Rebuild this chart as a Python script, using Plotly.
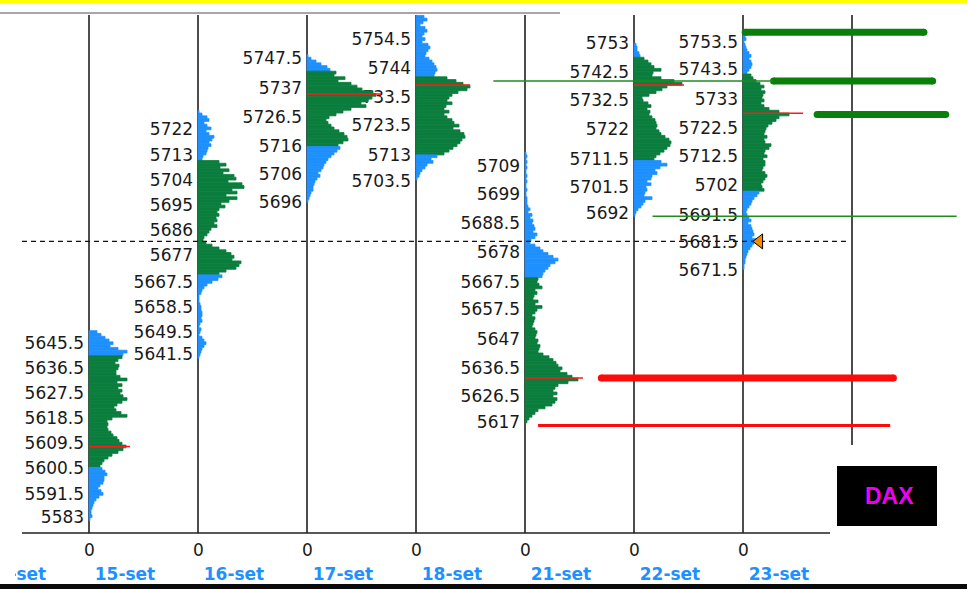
import plotly.graph_objects as go

# ---------------- canvas / scale helpers ----------------
W, H = 967, 589
PX_PER_PT = 2.79          # vertical pixels per index point
REF_PRICE, REF_PX = 5583.0, 519.0
DAY_PX = 109.0            # width of one session column
DAY0_PX = 89.0            # baseline of the first shown session (15-set)
LEFT_PX = 15.0            # left clip edge of the plot area
VOL_PER_DAY = 109.0       # volume units that fill one column


def price_at(py):
    return REF_PRICE + (REF_PX - py) / PX_PER_PT


def day_at(px):
    return (px - DAY0_PX) / DAY_PX


# ---------------- data ----------------
day_labels = ["14-set", "15-set", "16-set", "17-set", "18-set", "21-set", "22-set", "23-set"]
day_index = [-1, 0, 1, 2, 3, 4, 5, 6]

# volume profiles: highest price, then volumes per 1-point level going down
top_15 = 5650
vol_15 = [8, 12, 16, 20, 24, 21, 29, 38, 34,
          33, 29, 26, 30, 29, 27, 27, 31, 38, 28, 33, 29, 33, 31, 34, 38, 33, 28, 25, 27,
          32, 38, 23, 18, 19, 18, 19, 22, 24, 28, 30, 33, 37, 34, 29, 23, 19, 15, 13, 11,
          13, 16, 18, 15, 15, 14, 11, 9, 12, 14, 10, 7, 5, 4, 3, 2, 2, 3, 1]
va_15 = (5602, 5641)

top_16 = 5729
vol_16 = [1, 4, 9, 11, 6, 9, 13, 8, 11, 16, 14, 11, 13, 10, 9, 8, 5, 4,
          21, 28, 22, 31, 25, 36, 38, 30, 44, 46, 34, 39, 28, 39, 31, 23, 27, 21, 19, 21,
          18, 19, 16, 19, 13, 11, 9, 6, 5, 8, 14, 21, 28, 33, 36, 34, 43, 41, 38, 28, 21,
          24, 20, 14, 9, 6, 4, 3, 1, 1, 1, 2, 3, 3, 4, 4, 3, 4, 2, 1, 3, 2, 1, 4, 6, 8, 6,
          4, 3, 2, 1]
va_16 = (5671, 5711)

top_17 = 5749
vol_17 = [1, 4, 9, 14, 20, 23,
          29, 27, 38, 31, 44, 50, 55, 66, 69, 65, 61, 54, 59, 44, 36, 29, 22, 19, 21, 24,
          27, 32, 37, 40, 41, 36, 31,
          33, 30, 27, 24, 21, 19, 17, 16, 14, 11, 13, 10, 8, 7, 6, 6, 4, 3, 2, 1]
va_17 = (5717, 5743)

top_18 = 5763
vol_18 = [8, 11, 7, 4, 9, 11, 8, 6, 9, 6, 12, 14, 12, 10, 9, 13, 16, 18, 20, 21, 19, 18,
          31, 40, 47, 54, 51, 42, 36, 33, 31, 36, 30, 28, 33, 28, 31, 36, 38, 43, 37, 44,
          48, 49, 46, 44, 41, 37, 33, 28,
          21, 15, 17, 11, 9, 6, 4, 3, 1]
va_18 = (5714, 5741)

top_21 = 5714
vol_21 = [1, 2, 1, 2, 1, 2, 1, 1, 2, 1, 2, 1, 1, 2, 1, 1, 2,
          2, 2, 3, 5, 3, 7, 5, 8, 7, 9, 10, 8, 12, 10, 6, 5, 10, 15, 18, 23, 28, 33, 30,
          25, 23, 20, 18, 17,
          13, 12, 14, 17, 10, 12, 9, 8, 13, 10, 17, 12, 10, 7, 10, 9, 8, 7, 10, 12, 11,
          10, 13, 12, 15, 14, 13, 18, 24, 28, 31, 33, 37, 35, 42, 47, 53, 43, 33, 30, 28,
          32, 28, 32, 30, 27, 20, 13, 10, 7, 4, 2]
va_21 = (5618, 5669)

top_22 = 5753
vol_22 = [2, 3, 3, 5, 6,
          10, 14, 17, 20, 27, 19, 18, 27, 40, 48, 33, 28, 22, 15, 8, 9, 14, 17, 13, 16,
          15, 18, 21, 22, 23, 22, 25, 27, 31, 35, 37, 36, 33, 30, 26, 22, 20,
          27, 33, 26, 21, 23, 18, 17, 13, 17, 12, 13, 11, 10, 18, 11, 9, 7, 4, 2, 1]
va_22 = (5712, 5748)

top_23 = 5757
vol_23 = [1, 2, 3, 1, 2, 3, 4, 6, 8, 6, 8, 9, 8, 6, 4,
          8, 10, 13, 17, 21, 18, 22, 20, 19, 21, 18, 21, 26, 36, 46, 36, 33, 29, 25, 23,
          22, 21, 24, 21, 22, 28, 26, 22, 21, 24, 20, 22, 22, 20, 19, 22, 24, 22, 20, 18,
          19, 21,
          16, 14, 11, 9, 8, 6, 4, 3, 4, 6, 8, 5, 8, 9, 10, 11, 9, 13, 11, 9, 7, 5, 4, 3,
          2, 2, 1, 1]
va_23 = (5701, 5742)

# points of control: (day, price, length in volume units)
poc_days = [0, 2, 3, 4, 5, 6]
poc_prices = [5609, 5735.3, 5738.6, 5633.5, 5738.6, 5728.4]
poc_len = [41, 74, 54, 58, 50, 60]

# price labels for each column
lab_15 = [5645.5, 5636.5, 5627.5, 5618.5, 5609.5, 5600.5, 5591.5, 5583]
lab_16 = [5722, 5713, 5704, 5695, 5686, 5677, 5667.5, 5658.5, 5649.5, 5641.5]
lab_17 = [5747.5, 5737, 5726.5, 5716, 5706, 5696]
lab_18 = [5754.5, 5744, 5733.5, 5723.5, 5713, 5703.5]
lab_21 = [5709, 5699, 5688.5, 5678, 5667.5, 5657.5, 5647, 5636.5, 5626.5, 5617]
lab_22 = [5753, 5742.5, 5732.5, 5722, 5711.5, 5701.5, 5692]
lab_23 = [5753.5, 5743.5, 5733, 5722.5, 5712.5, 5702, 5691.5, 5681.5, 5671.5]

# horizontal reference levels (price, from-day, to-day)
lvl_price = [5633.5, 5616.5, 5757.5, 5740.0, 5728.0, 5740.0, 5691.5]
lvl_from = [4.70, 4.12, 6.02, 6.28, 6.68, 3.71, 5.17]
lvl_to = [7.38, 7.35, 7.66, 7.74, 7.86, 6.28, 7.96]
lvl_color = ["#FF0A0A", "#FF0A0A", "#0A7F0A", "#0A7F0A", "#0A7F0A", "#1E8C1E", "#1E8C1E"]
lvl_width = [7, 3, 7, 7, 7, 1.5, 1.5]
lvl_round = [True, False, True, True, True, False, False]

last_price = 5682.5
last_from, last_to = -0.615, 6.98
last_marker_day = 6.15

# ---------------- styles ----------------
BLUE = "#1E90FF"
GREEN = "#0B7D3D"
RED = "#FF1A1A"
TXT = "#1A1A1A"
FONT = "DejaVu Sans"

profiles = [
    (0, top_15, vol_15, va_15),
    (1, top_16, vol_16, va_16),
    (2, top_17, vol_17, va_17),
    (3, top_18, vol_18, va_18),
    (4, top_21, vol_21, va_21),
    (5, top_22, vol_22, va_22),
    (6, top_23, vol_23, va_23),
]
labels = [(0, lab_15), (1, lab_16), (2, lab_17), (3, lab_18),
          (4, lab_21), (5, lab_22), (6, lab_23)]

fig = go.Figure()

# price labels (drawn under the profiles)
lx, ly, lt = [], [], []
for d, labs in labels:
    for v in labs:
        lx.append(d - 0.045)
        ly.append(v)
        lt.append(f"{v:g}")
fig.add_trace(go.Scatter(x=lx, y=ly, text=lt, mode="text", textposition="middle left",
                         textfont=dict(family=FONT, size=17, color=TXT),
                         xaxis="x", yaxis="y", hoverinfo="skip", cliponaxis=False))

# session date labels (clipped at the plot edge)
fig.add_trace(go.Scatter(x=[d + 0.33 for d in day_index], y=[price_at(576)] * len(day_index),
                         text=day_labels, mode="text", textposition="middle center",
                         textfont=dict(family=FONT, size=17, color=BLUE, weight="bold"),
                         xaxis="x", yaxis="y", hoverinfo="skip", cliponaxis=True))

# profiles
for d, top, vols, (val, vah) in profiles:
    prices = [top - k for k in range(len(vols))]
    colors = [GREEN if val <= p <= vah else BLUE for p in prices]
    fig.add_trace(go.Bar(y=prices, x=[v / VOL_PER_DAY for v in vols], base=d,
                         orientation="h", width=1.0,
                         marker=dict(color=colors, line=dict(color=colors, width=0.8)),
                         xaxis="x2", yaxis="y2", hoverinfo="skip"))

# POC lines
for d, p, ln in zip(poc_days, poc_prices, poc_len):
    fig.add_trace(go.Scatter(x=[d, d + ln / VOL_PER_DAY], y=[p, p], mode="lines",
                             line=dict(color=RED, width=1.5), xaxis="x2", yaxis="y2",
                             hoverinfo="skip"))

# reference levels
for p, a, b, c, w, r in zip(lvl_price, lvl_from, lvl_to, lvl_color, lvl_width, lvl_round):
    fig.add_trace(go.Scatter(x=[a, b], y=[p, p], mode="lines+markers" if r else "lines",
                             line=dict(color=c, width=w),
                             marker=dict(size=w, color=c, line=dict(width=0)),
                             xaxis="x2", yaxis="y2", hoverinfo="skip", cliponaxis=False))

# last price dashed line and marker
fig.add_trace(go.Scatter(x=[last_from, last_to], y=[last_price, last_price], mode="lines",
                         line=dict(color="#111111", width=1.2, dash="5px,4px"),
                         xaxis="x2", yaxis="y2", hoverinfo="skip", cliponaxis=False))
fig.add_trace(go.Scatter(x=[last_marker_day], y=[last_price], mode="markers",
                         marker=dict(symbol="triangle-left", size=13, color="#F28C00",
                                     line=dict(color="#000000", width=1)),
                         xaxis="x2", yaxis="y2", hoverinfo="skip", cliponaxis=False))

# ---------------- frame shapes ----------------
shapes = []
ybot = 1 - 533 / H
ytop = 1 - 15 / H
for d in range(7):
    shapes.append(dict(type="line", xref="x", yref="paper", x0=d, x1=d, y0=ybot, y1=ytop,
                       line=dict(color="#202020", width=1.6), layer="below"))
shapes.append(dict(type="line", xref="x", yref="paper", x0=7, x1=7, y0=1 - 445 / H, y1=ytop,
                   line=dict(color="#202020", width=1.6), layer="below"))
shapes.append(dict(type="line", xref="paper", yref="paper", x0=22 / W, x1=830 / W, y0=ybot, y1=ybot,
                   line=dict(color="#202020", width=1.6), layer="below"))
shapes.append(dict(type="line", xref="paper", yref="paper", x0=0, x1=560 / W,
                   y0=1 - 13 / H, y1=1 - 13 / H, line=dict(color="#8A8A8A", width=1.5)))
shapes.append(dict(type="line", xref="paper", yref="paper", x0=0, x1=1,
                   y0=1 - 1.5 / H, y1=1 - 1.5 / H, line=dict(color="#FFFF00", width=3)))
shapes.append(dict(type="rect", xref="paper", yref="paper", x0=0, x1=1,
                   y0=0, y1=5 / H, fillcolor="#0A0A0A", line=dict(width=0)))
shapes.append(dict(type="rect", xref="paper", yref="paper", x0=837 / W, x1=937 / W,
                   y0=1 - 526 / H, y1=1 - 466 / H, fillcolor="#000000", line=dict(width=0)))

annotations = []
for d in range(7):
    annotations.append(dict(x=d, xref="x", y=1 - 550 / H, yref="paper", text="0",
                            xanchor="center", yanchor="middle",
                            showarrow=False, font=dict(family=FONT, size=17, color=TXT)))
annotations.append(dict(x=889 / W, xref="paper", y=1 - 496 / H, yref="paper", text="<b>DAX</b>",
                        xanchor="center", yanchor="middle",
                        showarrow=False, font=dict(family="Liberation Sans", size=23, color="#F000F0")))

x_range = [day_at(LEFT_PX), day_at(W)]
y_range = [price_at(H), price_at(0)]

fig.update_layout(
    width=W, height=H, margin=dict(l=0, r=0, t=0, b=0),
    plot_bgcolor="white", paper_bgcolor="white", showlegend=False, barmode="overlay",
    hovermode=False,
    xaxis=dict(domain=[LEFT_PX / W, 1], range=x_range, visible=False),
    yaxis=dict(domain=[0, 1], range=y_range, visible=False),
    xaxis2=dict(domain=[LEFT_PX / W, 1], range=x_range, visible=False, overlaying="x", anchor="y2"),
    yaxis2=dict(domain=[0, 1], range=y_range, visible=False, overlaying="y", anchor="x2"),
    shapes=shapes, annotations=annotations,
)

fig.write_html("out.html", config={"displayModeBar": False},
               post_script="document.body.style.margin='0';document.body.style.overflow='hidden';")
